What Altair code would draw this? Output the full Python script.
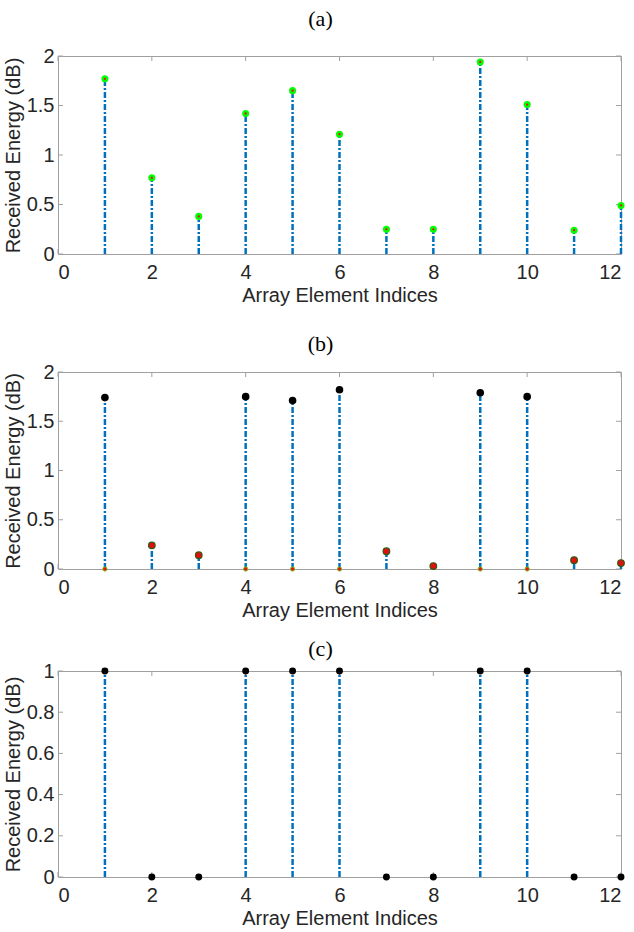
import altair as alt
import pandas as pd

# ---------------- data ----------------
indices = [1, 2, 3, 4, 5, 6, 7, 8, 9, 10, 11, 12]
energy_a = [1.77, 0.77, 0.38, 1.42, 1.65, 1.21, 0.25, 0.25, 1.94, 1.51, 0.24, 0.49]
energy_b = [1.74, 0.24, 0.14, 1.75, 1.71, 1.82, 0.18, 0.03, 1.79, 1.75, 0.09, 0.06]
selected_b = [1, 0, 0, 1, 1, 1, 0, 0, 1, 1, 0, 0]
energy_c = [1, 0, 0, 1, 1, 1, 0, 0, 1, 1, 0, 0]
x_ticks = [0, 2, 4, 6, 8, 10, 12]
y_ticks_ab = [0, 0.5, 1, 1.5, 2]
y_ticks_c = [0, 0.2, 0.4, 0.6, 0.8, 1]
panel_titles = ["(a)", "(b)", "(c)"]
x_title = "Array Element Indices"
y_title = "Received Energy (dB)"

# ---------------- style ----------------
W = 563
STEM = "#0072BD"
BOX = "#a0a0a0"
TXT = "#262626"
SANS = "Liberation Sans"
FS = 20
DASH = [6, 2, 2, 2]


def panel(df, ymax, yticks, height, title, title_offset, marks):
    xs = alt.Scale(domain=[0, 12], nice=False, zero=False)
    ys = alt.Scale(domain=[0, ymax], nice=False, zero=False)
    xax = alt.Axis(values=x_ticks, title=x_title, labelPadding=8, titlePadding=3)
    yax = alt.Axis(values=yticks, title=y_title, format="~g", labelPadding=4, titlePadding=3)

    base = alt.Chart(df)
    stems = base.mark_rule(color=STEM, strokeWidth=2.5, strokeDash=DASH).encode(
        x=alt.X("idx:Q", scale=xs, axis=xax),
        y=alt.Y("zero:Q", scale=ys, axis=yax),
        y2="val:Q",
    )

    xt = pd.DataFrame({"t": x_ticks})
    yt = pd.DataFrame({"t": yticks})
    tick_b = alt.Chart(xt).mark_rule(color=BOX, strokeWidth=1).encode(
        x=alt.X("t:Q", scale=xs), y=alt.value(height), y2=alt.value(height - 5))
    tick_t = alt.Chart(xt).mark_rule(color=BOX, strokeWidth=1).encode(
        x=alt.X("t:Q", scale=xs), y=alt.value(0), y2=alt.value(5))
    tick_l = alt.Chart(yt).mark_rule(color=BOX, strokeWidth=1).encode(
        y=alt.Y("t:Q", scale=ys), x=alt.value(0), x2=alt.value(5))
    tick_r = alt.Chart(yt).mark_rule(color=BOX, strokeWidth=1).encode(
        y=alt.Y("t:Q", scale=ys), x=alt.value(W - 5), x2=alt.value(W))

    layers = [tick_b, tick_t, tick_l, tick_r, stems]
    for m in marks:
        layers.append(m(base, xs, ys))

    return alt.layer(*layers).properties(
        width=W,
        height=height,
        title=alt.TitleParams(
            text=title, font="Liberation Serif", fontSize=22, fontWeight="normal",
            color="#000000", offset=title_offset, dx=-19, anchor="middle",
        ),
    )


# panel a
df_a = pd.DataFrame({"idx": indices, "val": energy_a, "zero": [0] * 12})


def a_green(base, xs, ys):
    return base.mark_point(filled=True, shape="circle", size=50, color="#00ff00", opacity=1).encode(
        x=alt.X("idx:Q", scale=xs), y=alt.Y("val:Q", scale=ys))


def a_red(base, xs, ys):
    return base.mark_point(filled=True, shape="circle", size=5, color="#ff0000", opacity=1).encode(
        x=alt.X("idx:Q", scale=xs), y=alt.Y("val:Q", scale=ys))


chart_a = panel(df_a, 2, y_ticks_ab, 198, panel_titles[0], 15, [a_green, a_red])

# panel b
df_b = pd.DataFrame({"idx": indices, "val": energy_b, "sel": selected_b, "zero": [0] * 12})


def b_zero(base, xs, ys):
    return base.transform_filter("datum.sel == 1").mark_point(
        filled=True, shape="circle", size=18, fill="#e81010", stroke="#7dbb10", strokeWidth=1, opacity=1
    ).encode(x=alt.X("idx:Q", scale=xs), y=alt.Y("zero:Q", scale=ys))


def b_red(base, xs, ys):
    return base.transform_filter("datum.sel == 0").mark_point(
        filled=True, shape="circle", size=44, fill="#e01010", stroke="#2f5a10", strokeWidth=1.2, opacity=1
    ).encode(x=alt.X("idx:Q", scale=xs), y=alt.Y("val:Q", scale=ys))


def b_black(base, xs, ys):
    return base.transform_filter("datum.sel == 1").mark_point(
        filled=True, shape="circle", size=58, color="#000000", opacity=1
    ).encode(x=alt.X("idx:Q", scale=xs), y=alt.Y("val:Q", scale=ys))


chart_b = panel(df_b, 2, y_ticks_ab, 197, panel_titles[1], 6, [b_zero, b_red, b_black])

# panel c
df_c = pd.DataFrame({"idx": indices, "val": energy_c, "zero": [0] * 12})


def c_black(base, xs, ys):
    return base.mark_point(filled=True, shape="circle", size=48, color="#000000", opacity=1).encode(
        x=alt.X("idx:Q", scale=xs), y=alt.Y("val:Q", scale=ys))


chart_c = panel(df_c, 1, y_ticks_c, 206, panel_titles[2], 0, [c_black])

chart = alt.vconcat(
    alt.vconcat(chart_a, chart_b, spacing=26),
    chart_c,
    spacing=16,
).properties(
    padding={"top": 7, "left": 2, "right": 0, "bottom": 0},
    background="white",
).configure_view(
    stroke=BOX, strokeWidth=1
).configure_axis(
    domain=False, ticks=False, grid=False,
    labelFont=SANS, labelFontSize=FS, labelColor=TXT,
    titleFont=SANS, titleFontSize=FS, titleFontWeight="normal", titleColor=TXT,
)

chart.save("out.html", embed_options={"renderer": "svg", "actions": False})
